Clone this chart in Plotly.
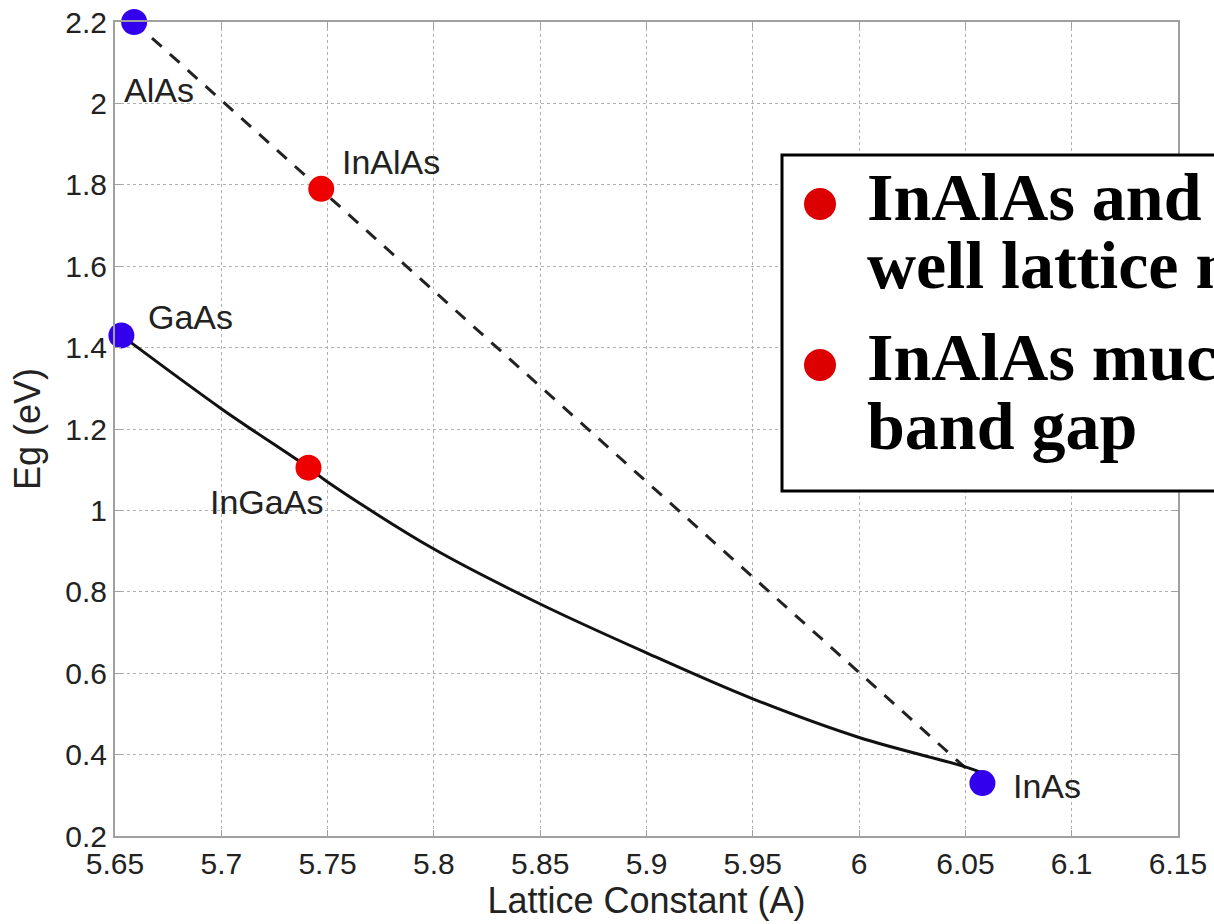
import plotly.graph_objects as go

# ---- data ----
binary_names = ["AlAs", "GaAs", "InAs"]
binary_a = [5.659, 5.653, 6.058]
binary_eg = [2.2, 1.43, 0.33]

ternary_names = ["InAlAs", "InGaAs"]
ternary_a = [5.747, 5.741]
ternary_eg = [1.79, 1.105]

# InGaAs (GaAs -> InAs) bowing curve
curve_a = [5.653, 5.70, 5.741, 5.75, 5.80, 5.85, 5.90, 5.95, 6.00, 6.05, 6.058]
curve_eg = [1.43, 1.25, 1.105, 1.07, 0.905, 0.77, 0.65, 0.537, 0.442, 0.37, 0.355]

# InAlAs (AlAs -> InAs) dashed line
dash_a = [5.659, 6.058]
dash_eg = [2.2, 0.33]

x_ticks = [5.65, 5.7, 5.75, 5.8, 5.85, 5.9, 5.95, 6.0, 6.05, 6.1, 6.15]
x_tick_text = ["5.65", "5.7", "5.75", "5.8", "5.85", "5.9", "5.95", "6", "6.05", "6.1", "6.15"]
y_ticks = [0.2, 0.4, 0.6, 0.8, 1.0, 1.2, 1.4, 1.6, 1.8, 2.0, 2.2]
y_tick_text = ["0.2", "0.4", "0.6", "0.8", "1", "1.2", "1.4", "1.6", "1.8", "2", "2.2"]

bullet_lines = [
    "InAlAs and InGaAs are",
    "well lattice matched",
    "InAlAs much larger",
    "band gap",
]

# ---- styling (pixel offsets / paper coords) ----
label_shift = {"AlAs": (25, -68), "GaAs": (69, 18), "InAs": (65, -3),
               "InAlAs": (70, 27), "InGaAs": (-42, -34)}
W, H = 1214, 924
L, R, T, B = 115, 36, 22, 88
PW, PH = W - L - R, H - T - B

def px(xp):
    return (xp - L) / PW

def py(yp):
    return (H - B - yp) / PH

BLUE = "#3300ee"
RED = "#ee0000"
TXT = "#222222"
FONT = "Arial, Liberation Sans, sans-serif"

fig = go.Figure()
fig.add_trace(go.Scatter(x=dash_a, y=dash_eg, mode="lines",
                         line=dict(color="#222222", width=3, dash="13px,11px"),
                         showlegend=False, hoverinfo="skip"))
fig.add_trace(go.Scatter(x=curve_a, y=curve_eg, mode="lines",
                         line=dict(color="#111111", width=3, shape="spline"),
                         showlegend=False, hoverinfo="skip"))
fig.add_trace(go.Scatter(x=binary_a, y=binary_eg, mode="markers",
                         marker=dict(color=BLUE, size=26, line=dict(width=0)),
                         showlegend=False, cliponaxis=False))
fig.add_trace(go.Scatter(x=ternary_a, y=ternary_eg, mode="markers",
                         marker=dict(color=RED, size=26, line=dict(width=0)),
                         showlegend=False, cliponaxis=False))

annotations = []
for names, xs, ys in [(binary_names, binary_a, binary_eg), (ternary_names, ternary_a, ternary_eg)]:
    for n, xv, yv in zip(names, xs, ys):
        dx, dy = label_shift[n]
        annotations.append(dict(x=xv, y=yv, xref="x", yref="y", text=n, showarrow=False,
                                xshift=dx, yshift=dy,
                                font=dict(family=FONT, size=34, color=TXT)))

# bullet text box
line_centers = [197, 265, 357, 426]
for txt, yc in zip(bullet_lines, line_centers):
    annotations.append(dict(x=px(865), y=py(yc), xref="paper", yref="paper", text=f"<b>{txt}</b>",
                            showarrow=False, xanchor="left", yanchor="middle",
                            font=dict(family="Liberation Serif, Times New Roman, serif", size=68, color="black")))

shapes = [
    dict(type="rect", xref="paper", yref="paper", x0=px(782), x1=px(1400), y0=py(491), y1=py(155),
         fillcolor="white", line=dict(color="black", width=3), layer="above"),
]
for yc in [204, 365]:
    shapes.append(dict(type="circle", xref="paper", yref="paper", xsizemode="pixel", ysizemode="pixel",
                       xanchor=px(820), yanchor=py(yc), x0=-16, x1=16, y0=-16, y1=16,
                       fillcolor="#dd0000", line=dict(width=0), layer="above"))

axis_common = dict(showgrid=True, gridcolor="#b0b0b0", griddash="dot", gridwidth=1,
                   showline=True, linecolor="#a0a0a0", linewidth=2, mirror="ticks",
                   ticks="inside", ticklen=6, tickcolor="#a0a0a0", zeroline=False,
                   automargin=False,
                   tickfont=dict(family=FONT, size=30, color=TXT))

fig.update_layout(
    width=W, height=H, margin=dict(l=L, r=R, t=T, b=B),
    paper_bgcolor="white", plot_bgcolor="white",
    xaxis=dict(range=[5.65, 6.15], tickvals=x_ticks, ticktext=x_tick_text,
               title=dict(text="Lattice Constant (A)", font=dict(family=FONT, size=36, color=TXT), standoff=6),
               **axis_common),
    yaxis=dict(range=[0.2, 2.2], tickvals=y_ticks, ticktext=y_tick_text,
               title=dict(text="Eg (eV)", font=dict(family=FONT, size=36, color=TXT), standoff=14),
               **axis_common),
    annotations=annotations, shapes=shapes,
)

fig.write_html("out.html", config={"displayModeBar": False})
